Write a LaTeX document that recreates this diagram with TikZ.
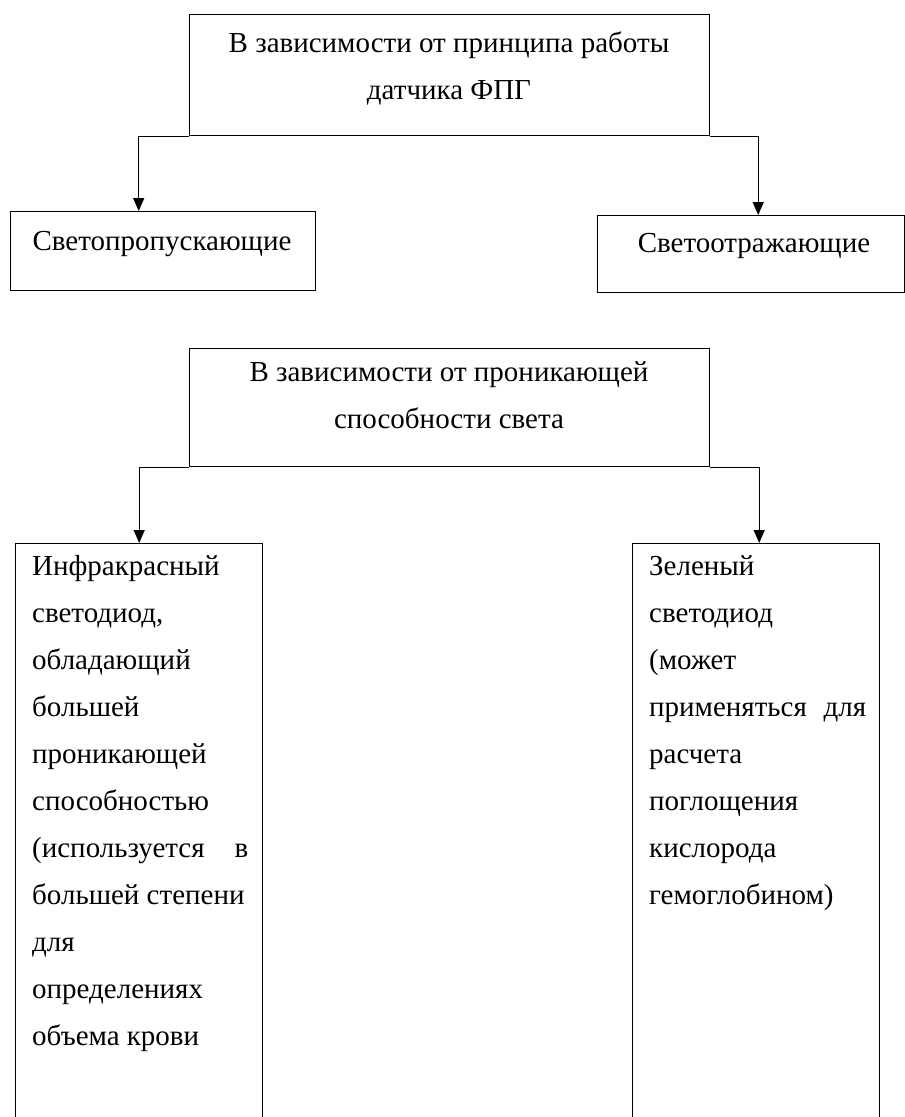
\documentclass[tikz,border=0pt]{standalone}
\usepackage{fontspec}
\setmainfont{Liberation Serif}
\usetikzlibrary{arrows.meta}
\tikzset{
  box/.style={draw, line width=1.4pt, anchor=north west, inner sep=0pt},
  arr/.style={line width=1.4pt, -{Triangle[length=13pt,width=11pt]}},
  txt/.style={anchor=base, inner sep=0pt, font=\fontsize{29}{47}\selectfont}
}
\begin{document}
\begin{tikzpicture}[x=1pt,y=-1pt]
\useasboundingbox (0,0) rectangle (905,1117);
\clip (0,0) rectangle (905,1117);
% boxes
\node[box, minimum width=520pt, minimum height=121pt] (top1) at (189,14) {};
\node[box, minimum width=305pt, minimum height=79pt] (left1) at (10,211) {};
\node[box, minimum width=307pt, minimum height=77pt] (right1) at (597,215) {};
\node[box, minimum width=520pt, minimum height=118pt] (top2) at (189,348) {};
\node[box, minimum width=247pt, minimum height=620pt] (left2) at (15,543) {};
\node[box, minimum width=247pt, minimum height=620pt] (right2) at (632,543) {};
% texts
\node[txt] (t1) at (449,52) {\parbox[t]{520pt}{\centering В зависимости от принципа работы\\ датчика ФПГ}};
\node[txt] (t2) at (162,250) {Светопропускающие};
\node[txt] (t3) at (754,252) {Светоотражающие};
\node[txt] (t4) at (449,381) {\parbox[t]{520pt}{\centering В зависимости от проникающей\\ способности света}};
\node[txt, anchor=base west] (t5) at (32,575) {\parbox[t]{216pt}{\raggedright
Инфракрасный\\
светодиод,\\
обладающий\\
большей\\
проникающей\\
способностью\\
(используется\hfill в\\
большей степени\\
для\\
определениях\\
объема крови}};
\node[txt, anchor=base west] (t6) at (649,575) {\parbox[t]{217pt}{\raggedright
Зеленый\\
светодиод\\
(может\\
применяться\hfill для\\
расчета\\
поглощения\\
кислорода\\
гемоглобином)}};
% connectors
\draw[arr] (top1.south west) -| ([xshift=-24.5pt]left1.north);
\draw[arr] (top1.south east) -| ([xshift=7pt]right1.north);
\draw[arr] (top2.south west) -| (left2.north);
\draw[arr] (top2.south east) -| ([xshift=3pt]right2.north);
\end{tikzpicture}
\end{document}
